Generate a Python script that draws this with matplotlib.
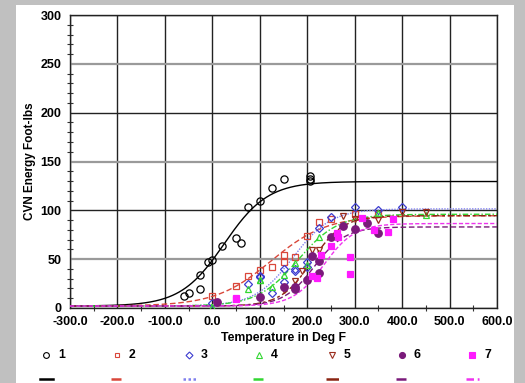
import numpy as np
import matplotlib.pyplot as plt
from matplotlib.lines import Line2D
from matplotlib.patches import Rectangle
from matplotlib.ticker import MultipleLocator, FormatStrFormatter

plt.rcParams['font.family'] = ['Liberation Sans', 'DejaVu Sans']

# --- data --------------------------------------------------------------
series_names = ['1', '2', '3', '4', '5', '6', '7']

temp_1 = [-60, -50, -25, -25, -10, 0, 20, 50, 60, 75, 100, 125, 150, 205, 205, 205]
cvn_1 = [12, 15, 34, 19, 47, 49, 63, 72, 67, 103, 110, 123, 132, 130, 132.5, 135]

temp_2 = [0, 50, 75, 100, 125, 150, 150, 175, 200, 225, 250, 300, 350]
cvn_2 = [12.5, 22.5, 32.5, 39, 42, 47, 54, 52, 73.5, 88.5, 91, 96, 96]

temp_3 = [0, 75, 100, 100, 125, 150, 150, 175, 175, 200, 200, 225, 250, 300, 350, 400]
cvn_3 = [5, 25, 32, 33, 15, 40, 27, 40, 38, 47, 42, 82, 93, 103, 100, 103]

temp_4 = [0, 75, 100, 100, 125, 150, 175, 200, 225, 350, 450]
cvn_4 = [1.5, 19.5, 29, 28.5, 21, 34, 46, 44, 73, 97, 95.5]

temp_5 = [150, 175, 190, 210, 225, 275, 300, 350, 400, 450]
cvn_5 = [18, 28, 38, 59, 59, 94, 91, 90, 98, 98]

temp_6 = [10, 100, 150, 175, 175, 200, 210, 225, 225, 250, 275, 300, 325, 350]
cvn_6 = [6.5, 11.5, 22, 22, 19, 28.5, 53, 35.5, 48.5, 72.5, 84, 81, 87.5, 77]

temp_7 = [50, 50, 210, 220, 230, 250, 262, 265, 290, 290, 315, 340, 370, 380]
cvn_7 = [9, 10, 33, 31, 54, 63.5, 76.5, 73, 52.5, 34.5, 92, 79.5, 77.5, 91]

# tanh transition-curve parameters (shelves, mid temperature, half width)
lower_shelf = [2, 2, 2, 2, 2, 2, 2]
upper_shelf = [129.5, 94.5, 101.5, 96, 94.5, 83, 86.5]
trans_temp = [25, 124, 170, 180, 210, 215, 235]
trans_width = [92, 117, 80, 85, 65, 65, 65]

temps = [temp_1, temp_2, temp_3, temp_4, temp_5, temp_6, temp_7]
cvns = [cvn_1, cvn_2, cvn_3, cvn_4, cvn_5, cvn_6, cvn_7]

# --- styles ---------------------------------------------------------------
colors = ['black', '#d9473a', '#3c3cd0', '#33d633', '#9a2d1e', '#7a1a7a', '#ff1aff']
line_colors = ['black', '#d9473a', '#8080ee', '#33d633', '#8a2412', '#7a1a7a', '#ee33ee']
markers = ['o', 's', 'D', '^', 'v', 'o', 's']
marker_sizes = [5.2, 4.4, 4.4, 4.8, 4.8, 5.4, 4.8]
filled = [False, False, False, False, False, True, True]
line_styles = ['-', (0, (4, 2)), (0, (1, 1)), (0, (4, 1.5, 1, 1.5)),
               (0, (5, 2, 2, 2)), (0, (4, 2)), (0, (3, 1.5))]

fig = plt.figure(figsize=(5.25, 3.83), dpi=100, facecolor='#c0c0c0')
fig.patches.append(Rectangle((16 / 525, 0), 498 / 525, 378 / 383,
                             transform=fig.transFigure, facecolor='white',
                             edgecolor='none', zorder=-5))

ax = fig.add_axes([70 / 525, 1 - 308 / 383, 427 / 525, 293 / 383])
ax.set_zorder(2)
ax.set_facecolor('white')

t = np.linspace(-300, 600, 400)
for i in range(7):
    curve = lower_shelf[i] + (upper_shelf[i] - lower_shelf[i]) / 2 * \
        (1 + np.tanh((t - trans_temp[i]) / trans_width[i]))
    ax.plot(t, curve, color=line_colors[i], ls=line_styles[i], lw=1.0, zorder=3)

for i in range(7):
    ax.plot(temps[i], cvns[i], ls='none', marker=markers[i], ms=marker_sizes[i],
            mec=colors[i], mew=0.9,
            mfc=colors[i] if filled[i] else 'none', zorder=4)

ax.set_xlim(-300, 600)
ax.set_ylim(0, 300)
ax.xaxis.set_major_locator(MultipleLocator(100))
ax.xaxis.set_minor_locator(MultipleLocator(50))
ax.yaxis.set_major_locator(MultipleLocator(50))
ax.yaxis.set_minor_locator(MultipleLocator(10))
ax.xaxis.set_major_formatter(FormatStrFormatter('%.1f'))
ax.yaxis.set_major_formatter(FormatStrFormatter('%d'))

ax.tick_params(which='both', direction='inout', color='#333333', width=0.8)
ax.tick_params(which='major', length=0, labelsize=9, pad=6)
ax.tick_params(which='minor', length=5)
for lab in ax.get_xticklabels() + ax.get_yticklabels():
    lab.set_fontweight('bold')

ax.grid(axis='x', which='major', color='#222222', lw=1.0)
ax.grid(axis='y', which='major', color='#222222', lw=1.0)
ax.set_axisbelow(True)
for spine in ax.spines.values():
    spine.set_color('#222222')
    spine.set_linewidth(1.0)

# alternate grey/black horizontal grid lines
for val, gl in zip(ax.get_yticks(), ax.yaxis.get_gridlines()):
    if int(round(val)) % 100 == 50:
        gl.set_color('#9a9a9a')
        gl.set_linewidth(1.6)

ax.set_xlabel('Temperature in Deg F', fontsize=8.8, fontweight='bold', labelpad=3)
ax.set_ylabel('CVN Energy Foot-lbs', fontsize=8.5, fontweight='bold', labelpad=3)

# legend: marker row with labels, line-sample row below
marker_x = [46, 117, 189, 259, 332, 402, 472]
for i in range(7):
    x0 = marker_x[i] / 525
    fig.add_artist(Line2D([x0], [1 - 355 / 383], transform=fig.transFigure,
                          marker=markers[i], ms=marker_sizes[i] * 0.8, ls='none',
                          mec=colors[i], mew=0.8,
                          mfc=colors[i] if filled[i] else 'none'))
    fig.text(x0 + 12 / 525, 1 - 355 / 383, series_names[i], fontsize=8.8,
             fontweight='bold', va='center', ha='left')
    fig.add_artist(Line2D([x0 - 6 / 525, x0 + 7 / 525], [1 - 379 / 383] * 2,
                          transform=fig.transFigure, color=line_colors[i],
                          ls=line_styles[i], lw=1.8))

fig.savefig('out.png', dpi=100, facecolor=fig.get_facecolor())
